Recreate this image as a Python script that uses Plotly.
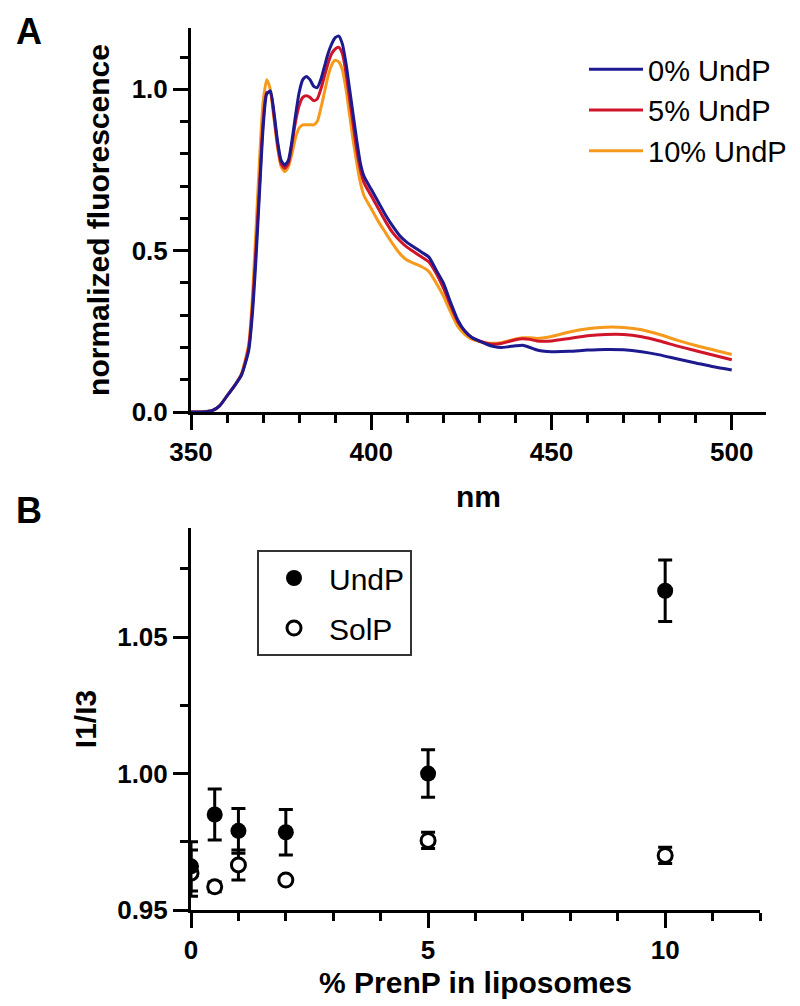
import plotly.graph_objects as go

# ---------------- Panel A data: normalized fluorescence spectra ----------------
wavelength_nm = [350, 353, 356, 358, 360, 362, 364, 366,
                 367, 368, 369, 370, 371, 372, 373, 374, 375, 376, 377, 378, 379, 380,
                 381, 382, 383, 384, 385, 386, 387, 388, 389, 390, 391, 392, 393, 394,
                 395, 396, 397, 398,
                 400, 402, 404, 406, 408, 410, 412, 414, 416, 418, 420, 422, 424, 426,
                 428, 430, 432, 434, 436, 438, 440, 442, 444, 446, 448, 450,
                 455, 460, 465, 470, 475, 480, 485, 490, 495, 500]

undp_0 = [0.0, 0.0, 0.005, 0.02, 0.05, 0.08, 0.115, 0.19,
          0.30, 0.47, 0.68, 0.88, 0.985, 0.995, 0.93, 0.84, 0.78, 0.765, 0.78, 0.84, 0.92, 0.99,
          1.03, 1.04, 1.03, 1.01, 1.005, 1.03, 1.07, 1.11, 1.14, 1.16, 1.165, 1.14, 1.08, 1.0,
          0.92, 0.84, 0.77, 0.73,
          0.69, 0.65, 0.61, 0.575, 0.545, 0.525, 0.51, 0.495, 0.48, 0.44, 0.40, 0.34, 0.285, 0.25,
          0.23, 0.22, 0.21, 0.203, 0.20, 0.202, 0.205, 0.207, 0.20, 0.192, 0.188, 0.187,
          0.188, 0.192, 0.194, 0.193, 0.187, 0.177, 0.164, 0.152, 0.14, 0.13]

undp_5 = [0.0, 0.0, 0.005, 0.02, 0.05, 0.08, 0.115, 0.20,
          0.32, 0.50, 0.70, 0.90, 0.99, 0.99, 0.92, 0.83, 0.77, 0.755, 0.77, 0.83, 0.90, 0.95,
          0.975, 0.98, 0.975, 0.965, 0.97, 1.0, 1.04, 1.08, 1.11, 1.125, 1.13, 1.11, 1.05, 0.97,
          0.89, 0.81, 0.75, 0.71,
          0.67, 0.63, 0.59, 0.555, 0.53, 0.51, 0.495, 0.48, 0.465, 0.43, 0.385, 0.33, 0.28, 0.25,
          0.23, 0.22, 0.213, 0.21, 0.212, 0.218, 0.224, 0.227, 0.225, 0.22, 0.219, 0.22,
          0.228, 0.236, 0.24, 0.24, 0.233, 0.22, 0.204, 0.19, 0.176, 0.162]

undp_10 = [0.0, 0.0, 0.005, 0.02, 0.05, 0.08, 0.12, 0.21,
           0.35, 0.56, 0.78, 0.96, 1.03, 1.0, 0.91, 0.82, 0.76, 0.745, 0.76, 0.80, 0.85, 0.88,
           0.89, 0.89, 0.89, 0.89, 0.90, 0.94, 0.99, 1.04, 1.075, 1.09, 1.085, 1.06, 1.0, 0.92,
           0.84, 0.77, 0.71, 0.67,
           0.63, 0.59, 0.555, 0.52, 0.49, 0.47, 0.46, 0.45, 0.435, 0.40, 0.36, 0.31, 0.265, 0.24,
           0.225, 0.218, 0.214, 0.213, 0.215, 0.22, 0.226, 0.23, 0.23, 0.228, 0.23, 0.234,
           0.248, 0.258, 0.263, 0.262, 0.255, 0.24, 0.222, 0.206, 0.192, 0.178]

spectra_names = ["0% UndP", "5% UndP", "10% UndP"]
spectra_colors = ["#1c1a8e", "#d0142a", "#f59a1c"]

# ---------------- Panel B data: I1/I3 ratio ----------------
prenp_pct = [0, 0.5, 1, 2, 5, 10]
undp_ratio = [0.966, 0.985, 0.979, 0.9785, 1.000, 1.067]
undp_err = [0.009, 0.0093, 0.0082, 0.0083, 0.0087, 0.0113]
solp_ratio = [0.9635, 0.9585, 0.9665, 0.961, 0.9755, 0.970]
solp_err = [0.0085, 0.0018, 0.0055, 0.001, 0.003, 0.003]

# ---------------- Figure ----------------
W, H = 800, 1006
ML, MR, MT, MB = 183, 42, 20, 104
PW, PH = W - ML - MR, H - MT - MB

def px_x(p):
    return (p - ML) / PW

def px_y(p):
    return 1 - (p - MT) / PH

FONT = "Liberation Sans, Arial, sans-serif"
fig = go.Figure()

spectra = [undp_0, undp_5, undp_10]
order = [2, 1, 0]  # draw orange first, blue on top
for i in order:
    fig.add_trace(go.Scatter(
        x=wavelength_nm, y=spectra[i], mode="lines", name=spectra_names[i],
        line=dict(color=spectra_colors[i], width=3, shape="spline", smoothing=0.6),
        xaxis="x", yaxis="y", legend="legend", legendrank=i + 1,
        legendgroup="g%d" % i,
    ))

fig.add_trace(go.Scatter(
    x=prenp_pct, y=solp_ratio, mode="markers", name="SolP",
    marker=dict(symbol="circle", size=14, color="white", line=dict(color="black", width=3)),
    error_y=dict(type="data", array=solp_err, color="black", thickness=3, width=7),
    xaxis="x2", yaxis="y2", legend="legend2", legendrank=2, legendgroup="s",
))
fig.add_trace(go.Scatter(
    x=prenp_pct, y=undp_ratio, mode="markers", name="UndP",
    marker=dict(symbol="circle", size=16, color="black", line=dict(color="black", width=0)),
    error_y=dict(type="data", array=undp_err, color="black", thickness=3, width=7),
    xaxis="x2", yaxis="y2", legend="legend2", legendrank=1, legendgroup="u",
))

axis_common = dict(
    showline=True, linecolor="black", linewidth=3, ticks="outside", ticklen=15,
    tickwidth=3, tickcolor="black", showgrid=False, zeroline=False,
    tickfont=dict(family=FONT, size=26, color="black", weight="bold"),
    title_font=dict(family=FONT, size=30, color="black", weight="bold"),
)

fig.update_layout(
    width=W, height=H, margin=dict(l=ML, r=MR, t=MT, b=MB),
    paper_bgcolor="white", plot_bgcolor="white",
    xaxis=dict(domain=[0, 1], anchor="y", range=[350, 509.5], tickvals=[350, 400, 450, 500],
               minor=dict(dtick=10, tick0=350, ticks="outside", ticklen=8, tickwidth=3, tickcolor="black"),
               title=dict(text="nm", standoff=20), **axis_common),
    yaxis=dict(domain=[px_y(404), 1], anchor="x", range=[0, 1.19], tickvals=[0, 0.5, 1.0],
               tickformat=".1f",
               minor=dict(dtick=0.1, tick0=0, ticks="outside", ticklen=8, tickwidth=3, tickcolor="black"),
               title=dict(text="normalized fluorescence", standoff=14), **axis_common),
    xaxis2=dict(domain=[0, px_x(752)], anchor="y2", range=[0, 12], tickvals=[0, 5, 10],
                minor=dict(dtick=1, tick0=0, ticks="outside", ticklen=8, tickwidth=3, tickcolor="black"),
                title=dict(text="% PrenP in liposomes", standoff=8), **axis_common),
    yaxis2=dict(domain=[0, px_y(520)], anchor="x2", range=[0.95, 1.09], tickvals=[0.95, 1.00, 1.05],
                tickformat=".2f",
                minor=dict(dtick=0.025, tick0=0.95, ticks="outside", ticklen=8, tickwidth=3, tickcolor="black"),
                title=dict(text="I1/I3", standoff=12), **axis_common),
    legend=dict(x=px_x(576), y=px_y(36), xanchor="left", yanchor="top",
                font=dict(family=FONT, size=29, color="black"), bgcolor="rgba(0,0,0,0)",
                itemwidth=54, tracegroupgap=10, traceorder="normal"),
    legend2=dict(x=px_x(249), y=px_y(542), xanchor="left", yanchor="top",
                 font=dict(family=FONT, size=30, color="black"), bgcolor="white",
                 bordercolor="#333333", borderwidth=2, itemwidth=60, tracegroupgap=8),
    showlegend=True,
    annotations=[
        dict(text="<b>A</b>", x=px_x(21), y=px_y(24), xref="paper", yref="paper",
             xanchor="center", yanchor="middle",
             showarrow=False, font=dict(family=FONT, size=36, color="black")),
        dict(text="<b>B</b>", x=px_x(21), y=px_y(502), xref="paper", yref="paper",
             xanchor="center", yanchor="middle",
             showarrow=False, font=dict(family=FONT, size=36, color="black")),
    ],
)

fig.write_html("out.html")
